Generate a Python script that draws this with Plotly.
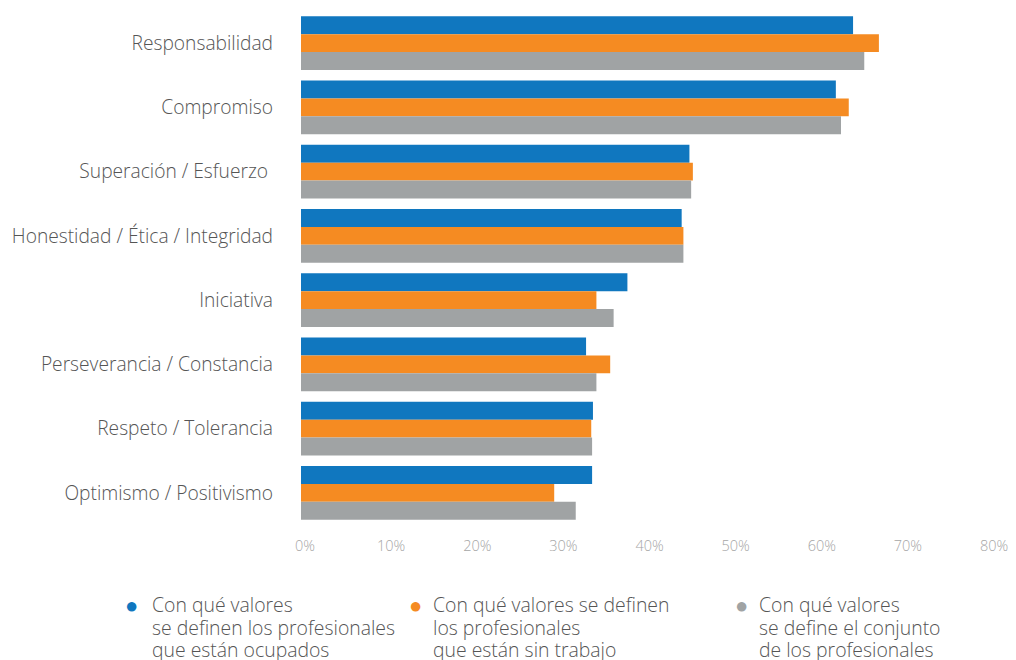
import plotly.graph_objects as go

categories = [
    "Responsabilidad",
    "Compromiso",
    "Superación / Esfuerzo\u00a0",
    "Honestidad / Ética / Integridad",
    "Iniciativa",
    "Perseverancia / Constancia",
    "Respeto / Tolerancia",
    "Optimismo / Positivismo",
]

ocupados = [64.1, 62.1, 45.1, 44.2, 37.9, 33.1, 33.9, 33.8]
sin_trabajo = [67.1, 63.6, 45.5, 44.4, 34.3, 35.9, 33.7, 29.4]
conjunto = [65.4, 62.7, 45.3, 44.4, 36.3, 34.3, 33.8, 31.9]

tick_values = [0, 10, 20, 30, 40, 50, 60, 70, 80]
tick_labels = ["0%", "10%", "20%", "30%", "40%", "50%", "60%", "70%", "80%"]

legend_lines = [
    ["Con qué valores", "se definen los profesionales", "que están ocupados"],
    ["Con qué valores se definen", "los profesionales", "que están sin trabajo"],
    ["Con qué valores", "se define el conjunto", "de los profesionales"],
]

BLUE = "#1077bf"
ORANGE = "#f58b22"
GRAY = "#a0a3a4"
TEXT = "#555555"
FONT = "Open Sans"

W, H = 1016, 660
L, R, T, B = 301, 26, 11, 135
PW, PH = W - L - R, H - T - B


def px_x(px):
    return (px - L) / PW


def px_y(py):
    return (H - B - py) / PH


fig = go.Figure()
for name, vals, col in [
    ("ocupados", ocupados, BLUE),
    ("sin trabajo", sin_trabajo, ORANGE),
    ("conjunto", conjunto, GRAY),
]:
    fig.add_trace(
        go.Bar(
            y=categories,
            x=vals,
            orientation="h",
            name=name,
            marker=dict(color=col, line=dict(width=0)),
            showlegend=False,
        )
    )

annotations = []
legend_items = [(131, 150, BLUE), (415, 431, ORANGE), (741, 757, GRAY)]
line_centers = [604, 627, 649]
for (dot_x, text_x, col), lines in zip(legend_items, legend_lines):
    annotations.append(
        dict(
            x=px_x(dot_x), y=px_y(604), xref="paper", yref="paper",
            text="●", showarrow=False, xanchor="center", yanchor="middle",
            font=dict(family=FONT, size=22, color=col),
        )
    )
    for line, cy in zip(lines, line_centers):
        annotations.append(
            dict(
                x=px_x(text_x), y=px_y(cy), xref="paper", yref="paper",
                text=line, showarrow=False, xanchor="left", yanchor="middle",
                align="left",
                font=dict(family=FONT, size=19.4, color=TEXT, weight=300),
            )
        )

fig.update_layout(
    width=W,
    height=H,
    margin=dict(l=L, r=R, t=T, b=B, pad=0),
    paper_bgcolor="white",
    plot_bgcolor="white",
    barmode="group",
    bargap=0.16,
    bargroupgap=0,
    font=dict(family=FONT, color=TEXT),
    xaxis=dict(
        range=[0, 80],
        tickvals=tick_values,
        ticktext=tick_labels,
        showgrid=False,
        zeroline=False,
        showline=False,
        ticks="",
        tickfont=dict(family=FONT, size=14.5, color="#a6a6a6", weight=300),
        ticklabelstandoff=10,
        ticklabelshift=4,
        automargin=False,
        fixedrange=True,
    ),
    yaxis=dict(
        autorange="reversed",
        showgrid=False,
        zeroline=False,
        showline=False,
        ticks="",
        tickfont=dict(family=FONT, size=19.2, color=TEXT, weight=300),
        ticklabelstandoff=27,
        automargin=False,
        fixedrange=True,
    ),
    annotations=annotations,
)

fig.write_html("out.html")
